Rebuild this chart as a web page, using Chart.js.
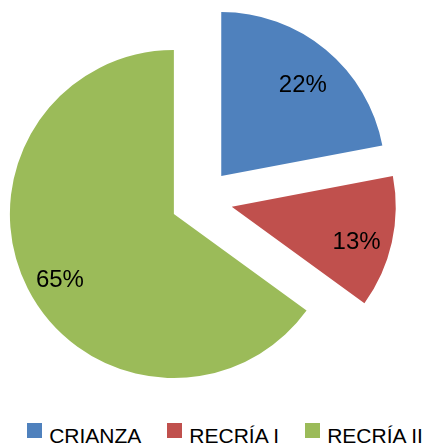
<!DOCTYPE html>
<html>
<head>
<meta charset="utf-8">
<script src="https://cdn.jsdelivr.net/npm/chart.js@4.4.0/dist/chart.umd.min.js"></script>
<style>
  html, body { margin: 0; padding: 0; background: #ffffff; }
  #wrap { position: relative; width: 428px; height: 446px; overflow: hidden; }
  #chartBox { position: absolute; left: 0; top: 0; width: 428px; height: 400px; }
  #legend {
    position: absolute; left: 22px; top: 424px; width: 406px;
    display: flex; justify-content: center;
    font-family: "Liberation Sans", Arial, sans-serif; font-size: 21px; line-height: 24px; color: #000;
  }
  .item { display: flex; align-items: flex-start; margin: 0 13px; white-space: nowrap; }
  .swatch { width: 15px; height: 15px; margin-top: -1px; margin-right: 7px; }
</style>
</head>
<body>
<div id="wrap">
  <div id="chartBox"><canvas id="pieChart"></canvas></div>
  <div id="legend"></div>
</div>
<script>
const categories = ['CRIANZA', 'RECRÍA I', 'RECRÍA II'];
const shares = [22, 13, 65];
const sliceColors = ['#4F81BD', '#C0504D', '#9BBB59'];

// pull every slice out along its own mid angle
const explodePlugin = {
    id: 'explode',
    afterDatasetUpdate(chart, args, opts) {
        args.meta.data.forEach(arc => {
            const mid = (arc.startAngle + arc.endAngle) / 2;
            arc.x += Math.cos(mid) * opts.distance;
            arc.y += Math.sin(mid) * opts.distance;
        });
    }
};

// percentage text inside each slice
const sliceLabelPlugin = {
    id: 'sliceLabels',
    afterDatasetsDraw(chart, args, opts) {
        const ctx = chart.ctx;
        const meta = chart.getDatasetMeta(0);
        ctx.save();
        ctx.font = opts.font;
        ctx.fillStyle = opts.color;
        ctx.textAlign = 'center';
        ctx.textBaseline = 'middle';
        meta.data.forEach((arc, i) => {
            const mid = (arc.startAngle + arc.endAngle) / 2;
            const r = arc.outerRadius * opts.position;
            ctx.fillText(shares[i] + '%', arc.x + Math.cos(mid) * r, arc.y + Math.sin(mid) * r + opts.shiftY);
        });
        ctx.restore();
    }
};

const chart = new Chart(document.getElementById('pieChart'), {
    type: 'pie',
    data: {
        labels: categories,
        datasets: [{
            data: shares,
            backgroundColor: sliceColors,
            borderWidth: 0
        }]
    },
    options: {
        responsive: true,
        maintainAspectRatio: false,
        animation: false,
        radius: 164,
        layout: { padding: { left: 0, right: 25, top: 0, bottom: 0 } },
        plugins: {
            legend: { display: false },
            tooltip: { enabled: false },
            explode: { distance: 31 },
            sliceLabels: {
                font: '24px "Liberation Sans", sans-serif',
                color: '#000000',
                position: 0.78,
                shiftY: 8
            }
        }
    },
    plugins: [explodePlugin, sliceLabelPlugin]
});

// legend drawn as html, one entry per category
const legendEl = document.getElementById('legend');
categories.forEach((name, i) => {
    const item = document.createElement('div');
    item.className = 'item';
    const sw = document.createElement('span');
    sw.className = 'swatch';
    sw.style.background = sliceColors[i];
    const txt = document.createElement('span');
    txt.textContent = name;
    item.appendChild(sw);
    item.appendChild(txt);
    legendEl.appendChild(item);
});
</script>
</body>
</html>
